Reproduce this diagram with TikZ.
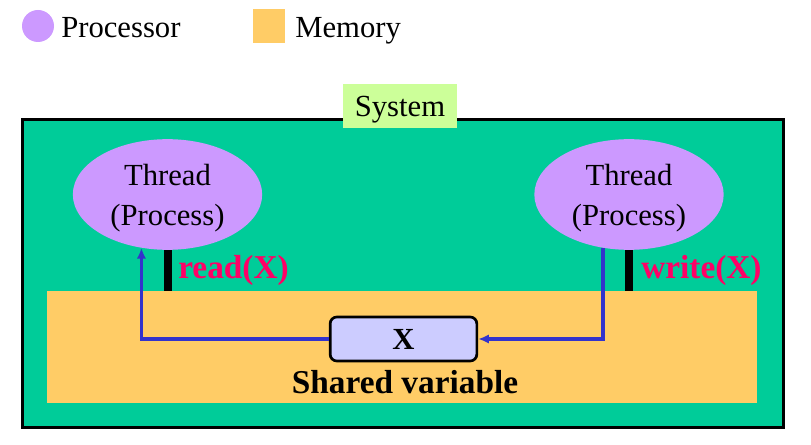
\documentclass[tikz,border=0pt]{standalone}
\usepackage{fontspec}
\setmainfont{Liberation Serif}
\usetikzlibrary{arrows.meta, positioning, shapes.geometric}
\definecolor{procpurple}{RGB}{204,153,255}
\definecolor{memorange}{RGB}{255,204,102}
\definecolor{sysgreen}{RGB}{0,204,153}
\definecolor{labelgreen}{RGB}{204,255,153}
\definecolor{varblue}{RGB}{204,204,255}
\definecolor{flowblue}{RGB}{51,51,204}
\definecolor{oppink}{RGB}{255,0,102}

\begin{document}
\begin{tikzpicture}[
    x=0.75pt, y=-0.75pt,
    big_text/.style={font=\fontsize{23}{27}\selectfont, inner sep=0pt},
    bold_text/.style={font=\fontsize{25}{29}\selectfont\bfseries, inner sep=0pt},
    thread_node/.style={ellipse, fill=procpurple, minimum width=142pt, minimum height=83pt, inner sep=0pt, align=center, text depth=0pt, font=\fontsize{23}{30}\selectfont},
    sys_box/.style={draw=black, line width=2.2pt, fill=sysgreen, minimum width=571pt, minimum height=231pt, inner sep=0pt},
    mem_box/.style={fill=memorange, minimum width=532pt, minimum height=84pt, inner sep=0pt},
    var_box/.style={draw=black, line width=2pt, rounded corners=5pt, fill=varblue, minimum width=110pt, minimum height=33pt, font=\fontsize{23}{27}\selectfont\bfseries},
    port_bar/.style={line width=6pt, draw=black},
    op_label/.style={bold_text, text=oppink, anchor=west},
    flow/.style={-{Latex[length=8pt, width=7pt]}, line width=2.5pt, draw=flowblue}
]
    \useasboundingbox (0,0) rectangle (811,445);

    % Legend
    \node[circle, fill=procpurple, minimum size=24pt, inner sep=0pt] (leg_proc) at (38,26) {};
    \node[big_text, anchor=base west] (leg_proc_txt) at (61,38) {Processor};
    \node[fill=memorange, minimum width=24pt, minimum height=26pt, inner sep=0pt] (leg_mem) at (269,26) {};
    \node[big_text, anchor=base west] (leg_mem_txt) at (295,38) {Memory};

    % System with its label on the top border
    \node[sys_box] (system) at (403,273.5) {};
    \node[fill=labelgreen, minimum width=85pt, minimum height=33pt, big_text, text depth=0pt] (sys_label) at (400,106) {System};

    % Memory area and shared variable
    \node[mem_box] (mem) at (402,347) {};
    \node[var_box] (var) at (403.5,339) {X};
    \node[bold_text] (shared) at (405,382) {Shared variable};

    % Threads
    \node[thread_node] (thread_l) at (167.5,194.5) {Thread\\(Process)};
    \node[thread_node] (thread_r) at (629,194.5) {Thread\\(Process)};

    % Access ports
    \coordinate (bar_l) at (thread_l.south);
    \coordinate (bar_r) at (thread_r.south);
    \draw[port_bar] (bar_l) -- (bar_l |- mem.north);
    \draw[port_bar] (bar_r) -- (bar_r |- mem.north);
    \node[op_label] (read_op) at (178,270) {read(X)};
    \node[op_label] (write_op) at (641,270) {write(X)};

    % Data flow through the shared variable
    \draw[flow] (var.west) -| (thread_l.244);
    \draw[flow] (thread_r.244) |- (var.east);

\end{tikzpicture}
\end{document}
